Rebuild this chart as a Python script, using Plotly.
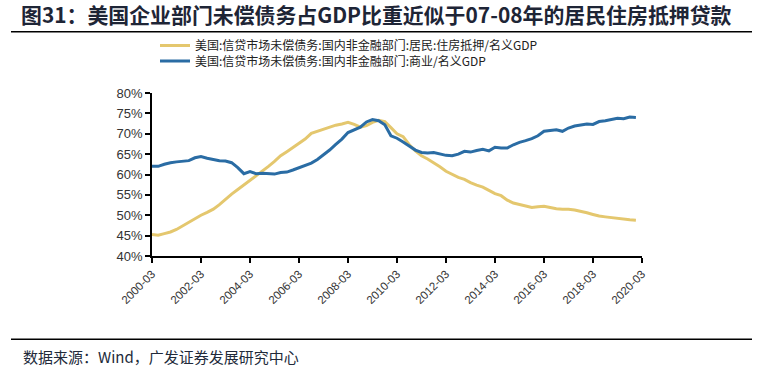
import plotly.graph_objects as go

# Quarterly dates 2000-03 .. 2019-12
dates = [f"{y}-{m:02d}-01" for y in range(2000, 2020) for m in (3, 6, 9, 12)]

household_mortgage = [
    45.3, 45.1, 45.5, 45.9, 46.5, 47.4, 48.1, 49.2, 50.0, 50.7,
    51.5, 52.6, 53.9, 55.2, 56.3, 57.4, 58.6, 59.6, 60.7, 62.0,
    63.2, 64.6, 65.6, 66.6, 67.6, 68.7, 70.1, 70.6, 71.0, 71.6,
    72.1, 72.4, 72.8, 72.3, 71.6, 72.0, 72.8, 73.3, 73.0, 71.5,
    70.0, 69.3, 67.3, 65.8, 64.6, 63.8, 62.9, 61.9, 60.8, 60.0,
    59.3, 58.8, 58.0, 57.4, 56.9, 56.1, 55.3, 54.8, 53.7, 53.0,
    52.6, 52.3, 51.9, 52.1, 52.2, 51.9, 51.6, 51.5, 51.5, 51.3,
    51.0, 50.6, 50.2, 49.8, 49.6, 49.4, 49.2, 49.0, 48.9, 48.8,
]

business_debt = [
    62.0, 62.0, 62.5, 62.9, 63.1, 63.2, 63.4, 64.1, 64.4, 64.0,
    63.7, 63.4, 63.3, 62.9, 61.7, 60.2, 60.7, 60.2, 60.3, 60.2,
    60.1, 60.5, 60.6, 61.1, 61.6, 62.3, 62.8, 63.7, 64.8, 66.0,
    67.4, 68.7, 70.3, 71.0, 71.6, 72.9, 73.5, 73.2, 72.2, 69.5,
    68.9, 68.0, 67.0, 66.0, 65.4, 65.3, 65.4, 65.0, 64.7, 64.6,
    65.0, 65.7, 65.5, 65.9, 66.2, 65.8, 66.7, 66.5, 66.5, 67.3,
    67.9, 68.3, 68.8, 69.5, 70.6, 70.8, 71.0, 70.6, 71.4, 71.9,
    72.2, 72.4, 72.3, 73.0, 73.2, 73.5, 73.8, 73.7, 74.1, 74.0,
]

series_names = [
    "美国:信贷市场未偿债务:国内非金融部门:居民:住房抵押/名义GDP",
    "美国:信贷市场未偿债务:国内非金融部门:商业/名义GDP",
]

x_tick_vals = [f"{y}-03-01" for y in range(2000, 2021, 2)]
x_tick_text = [f"{y}-03" for y in range(2000, 2021, 2)]
y_tick_vals = [40, 45, 50, 55, 60, 65, 70, 75, 80]
y_tick_text = [f"{v}%" for v in y_tick_vals]

title_text = "图31：美国企业部门未偿债务占GDP比重近似于07-08年的居民住房抵押贷款"
source_text = "数据来源：Wind，广发证券发展研究中心"

W, H = 768, 382
L, R, T, B = 152, 642, 93, 256  # plot area pixel bounds


def px_x(px):
    return (px - L) / (R - L)


def px_y(py):
    return (B - py) / (B - T)


fig = go.Figure()
fig.add_trace(go.Scatter(
    x=dates, y=household_mortgage, mode="lines", name=series_names[0],
    line=dict(color="#E4C76E", width=3), legend="legend",
))
fig.add_trace(go.Scatter(
    x=dates, y=business_debt, mode="lines", name=series_names[1],
    line=dict(color="#2A6CA4", width=3), legend="legend2",
))

cjk = "Noto Sans CJK SC"
legend_common = dict(
    xref="paper", yref="paper", xanchor="left", yanchor="middle",
    bgcolor="rgba(0,0,0,0)", borderwidth=0,
    font=dict(family=cjk, size=12, color="#222222"),
    itemwidth=30, tracegroupgap=0,
)

fig.update_layout(
    width=W, height=H,
    margin=dict(l=L, r=W - R, t=T, b=H - B, autoexpand=False),
    paper_bgcolor="white", plot_bgcolor="white",
    showlegend=True,
    legend=dict(x=px_x(155), y=px_y(45.5), **legend_common),
    legend2=dict(x=px_x(155), y=px_y(61), **legend_common),
    title=dict(
        text=title_text, xref="container", yref="container",
        x=21 / W, y=1 - 16 / H, xanchor="left", yanchor="middle",
        font=dict(family=cjk, size=20.9, color="#1E2536", weight="bold"),
    ),
    xaxis=dict(
        type="date",
        range=["2000-03-01", "2020-03-01"],
        tickvals=x_tick_vals, ticktext=x_tick_text, tickangle=-45,
        showgrid=False, zeroline=False,
        showline=True, linecolor="black", linewidth=1.5,
        ticks="outside", ticklen=5, tickcolor="black", tickwidth=1.5,
        tickfont=dict(family="Liberation Sans, Arial", size=11.5, color="#333333"),
    ),
    yaxis=dict(
        range=[40, 80],
        tickvals=y_tick_vals, ticktext=y_tick_text,
        showgrid=False, zeroline=False,
        showline=True, linecolor="black", linewidth=1.5,
        ticks="outside", ticklen=5, tickcolor="black", tickwidth=1.5,
        tickfont=dict(family="Liberation Sans, Arial", size=13, color="#333333"),
    ),
    shapes=[
        dict(type="line", xref="paper", yref="paper",
             x0=px_x(11), x1=px_x(752), y0=px_y(31.7), y1=px_y(31.7),
             line=dict(color="black", width=1.5)),
        dict(type="line", xref="paper", yref="paper",
             x0=px_x(11), x1=px_x(752), y0=px_y(339.3), y1=px_y(339.3),
             line=dict(color="black", width=1.5)),
    ],
    annotations=[
        dict(text=source_text, xref="paper", yref="paper",
             x=px_x(21), y=px_y(356.5), xanchor="left", yanchor="middle",
             showarrow=False,
             font=dict(family=cjk, size=15, color="#222a3a")),
    ],
)

fig.write_html(
    "out.html",
    config={"displayModeBar": False},
    post_script="document.body.style.margin='0px';",
)
